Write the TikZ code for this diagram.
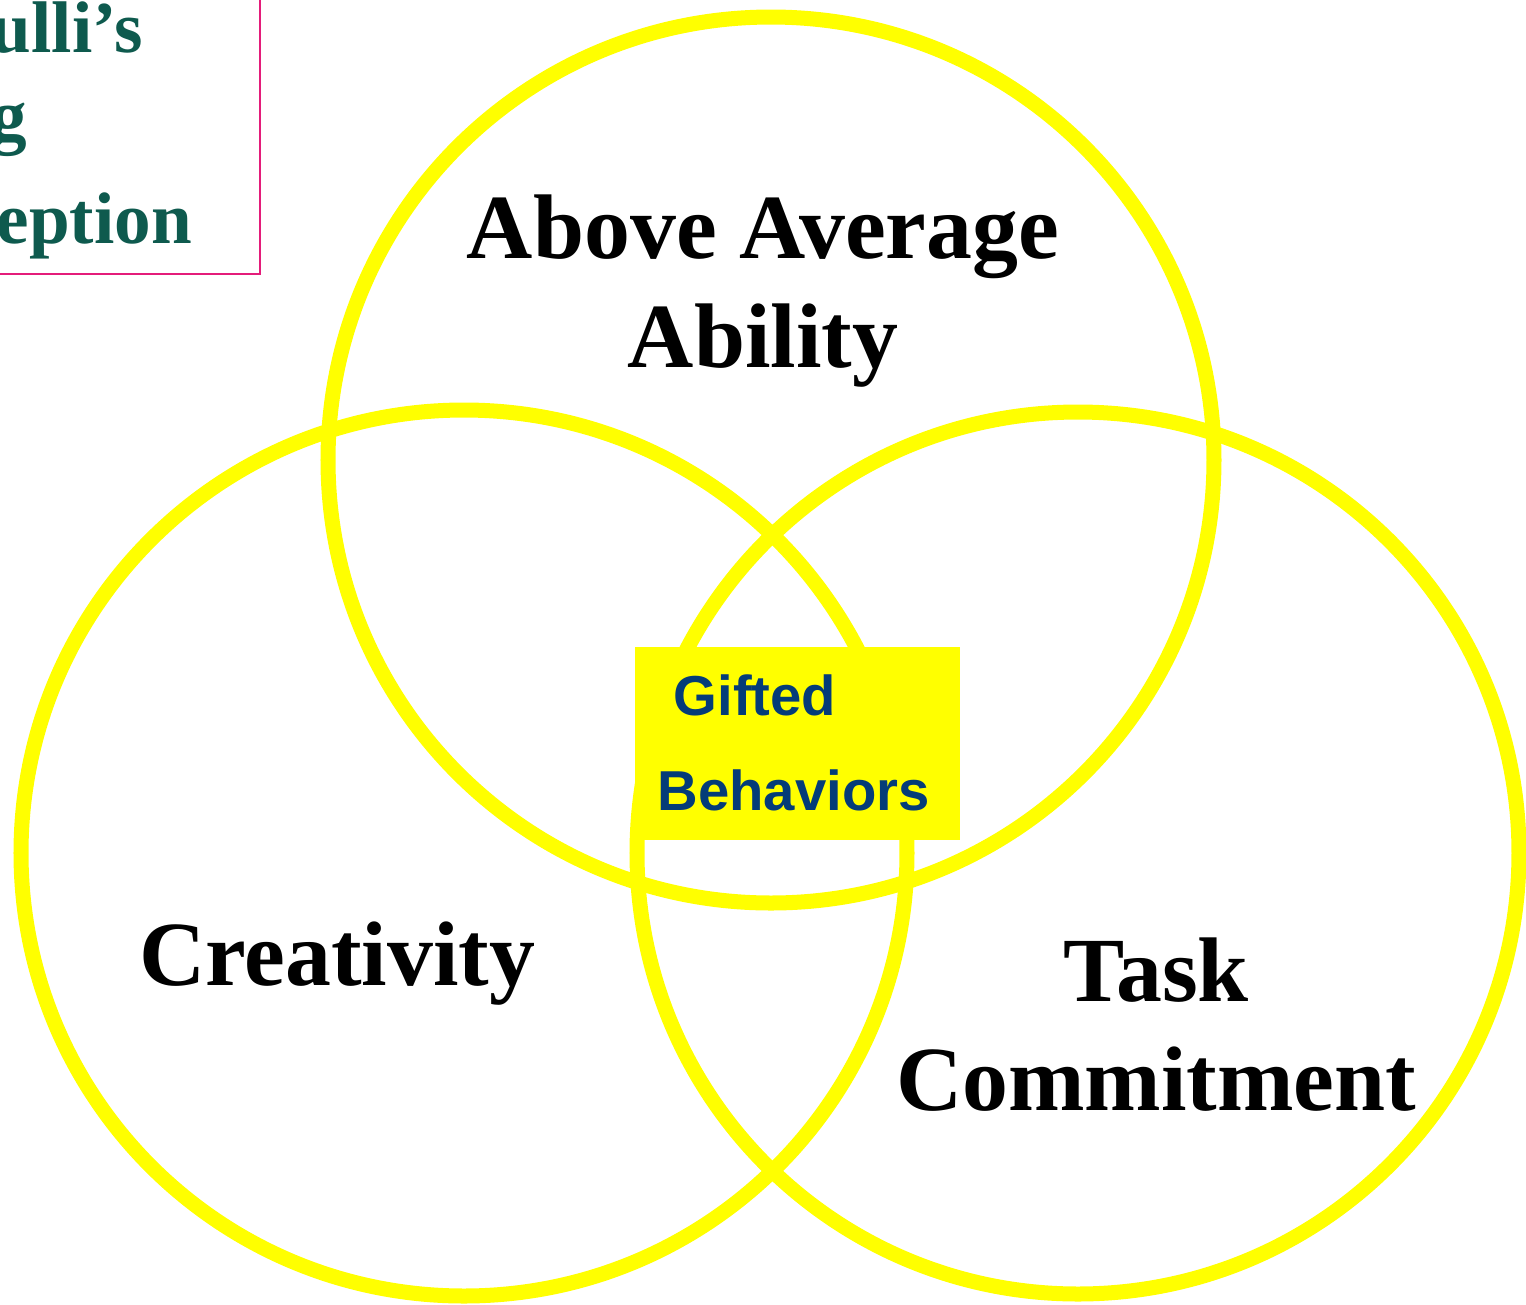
\documentclass[tikz,border=0pt]{standalone}
\usepackage{fontspec}
\setmainfont{Liberation Serif}
\newfontfamily\arialfont{Liberation Sans}
\definecolor{ringyellow}{RGB}{255,255,0}
\definecolor{titlegreen}{RGB}{14,90,78}
\definecolor{framepink}{RGB}{228,28,122}
\definecolor{giftblue}{RGB}{4,60,120}
\begin{document}
\begin{tikzpicture}[x=0.01cm,y=-0.01cm,
  ring/.style={draw=ringyellow,line width=15*0.2845pt},
  bigword/.style={anchor=base,inner sep=0pt,font=\fontsize{26.1}{30}\selectfont\bfseries},
  giftword/.style={anchor=base west,inner sep=0pt,text=giftblue,font=\arialfont\fontsize{16}{18}\selectfont\bfseries},
  titleword/.style={anchor=base west,inner sep=0pt,text=titlegreen,font=\fontsize{20.8}{24}\selectfont\bfseries}]
  \useasboundingbox (0,0) rectangle (1526,1305);
  \begin{scope}
    \clip (0,0) rectangle (1526,1305);
    % title frame in the corner
    \draw[framepink,line width=0.6pt] (-10,-10) rectangle (260,274);
    \node[titleword] (t1) at (-10,52) {ulli’s};
    \node[titleword] (t2) at (-10,140) {g};
    \node[titleword] (t3) at (-4,243) {eption};
    % the three rings
    \draw[ring] (771,460) circle (443);
    \draw[ring] (464,853) circle (443);
    \draw[ring] (1078,853) circle (441);
    % centre label
    \node[fill=ringyellow,draw=none,minimum width=325*0.2845pt,minimum height=193*0.2845pt,inner sep=0pt] (gift) at (797.5,743.5) {};
    \node[giftword] (g1) at (673,715) {Gifted};
    \node[giftword] (g2) at (657,810) {Behaviors};
    % ring labels
    \node[bigword] (a1) at (763,258) {Above Average};
    \node[bigword] (a2) at (763,367) {Ability};
    \node[bigword] (c1) at (337,985) {Creativity};
    \node[bigword] (k1) at (1156,1001) {Task};
    \node[bigword] (k2) at (1156,1110) {Commitment};
  \end{scope}
\end{tikzpicture}
\end{document}
